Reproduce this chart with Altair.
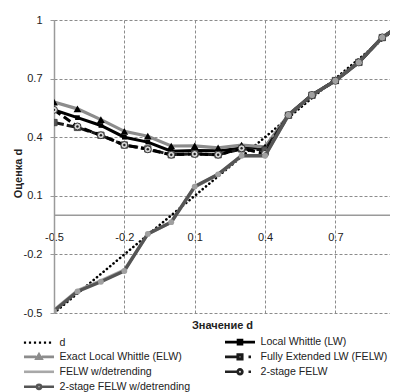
import altair as alt
import pandas as pd

# ---------------- data ----------------
d_values = [-0.5, -0.4, -0.3, -0.2, -0.1, 0.0, 0.1, 0.2, 0.3, 0.4, 0.5, 0.6, 0.7, 0.8, 0.9, 1.0]
s_d = [-0.5, -0.4, -0.3, -0.2, -0.1, 0.0, 0.1, 0.2, 0.3, 0.4, 0.5, 0.6, 0.7, 0.8, 0.9, 1.0]
s_lw = [0.54, 0.50, 0.46, 0.40, 0.375, 0.328, 0.332, 0.33, 0.345, 0.345, 0.512, 0.615, 0.69, 0.784, 0.91, 0.99]
s_elw = [0.58, 0.545, 0.49, 0.43, 0.405, 0.355, 0.356, 0.345, 0.36, 0.35, 0.515, 0.617, 0.69, 0.785, 0.912, 0.99]
s_felw = [0.475, 0.45, 0.41, 0.36, 0.34, 0.31, 0.315, 0.31, 0.34, 0.335, 0.512, 0.615, 0.69, 0.783, 0.91, 0.99]
s_felw2 = [0.54, 0.455, 0.41, 0.36, 0.338, 0.31, 0.314, 0.31, 0.343, 0.315, 0.513, 0.616, 0.689, 0.783, 0.911, 0.99]
s_felw_det = [-0.485, -0.385, -0.335, -0.28, -0.095, -0.035, 0.145, 0.21, 0.305, 0.305, 0.512, 0.615, 0.69, 0.783, 0.91, 0.99]
s_felw2_det = [-0.49, -0.39, -0.34, -0.285, -0.095, -0.035, 0.147, 0.21, 0.305, 0.305, 0.514, 0.616, 0.689, 0.783, 0.911, 0.99]

series_names = [
    "d",
    "Exact Local Whittle (ELW)",
    "FELW w/detrending",
    "2-stage FELW w/detrending",
    "Local Whittle (LW)",
    "Fully Extended LW (FELW)",
    "2-stage FELW",
]
series_values = {
    "d": s_d,
    "Exact Local Whittle (ELW)": s_elw,
    "FELW w/detrending": s_felw_det,
    "2-stage FELW w/detrending": s_felw2_det,
    "Local Whittle (LW)": s_lw,
    "Fully Extended LW (FELW)": s_felw,
    "2-stage FELW": s_felw2,
}
x_ticks = [-0.5, -0.2, 0.1, 0.4, 0.7]
y_ticks = [-0.5, -0.2, 0.1, 0.4, 0.7, 1.0]
zero_line = [0]

rows = []
for name in series_names:
    for dv, v in zip(d_values, series_values[name]):
        rows.append({"d": dv, "value": v, "series": name})
df = pd.DataFrame(rows)

FONT = "Liberation Sans"
GRID = "#8c8c8c"
AXISC = "#9a9a9a"

num_expr = "(datum.value < 0 ? '-' : '') + format(abs(datum.value), '.1f')"

x_enc = alt.X(
    "d:Q",
    scale=alt.Scale(domain=[-0.5, 0.933], nice=False, zero=False),
    axis=alt.Axis(
        values=x_ticks, grid=True, gridDash=[3, 2], gridColor=GRID, gridWidth=1,
        domain=False, ticks=False, labelPadding=-82, labelFlush=False,
        labelExpr=num_expr, labelFont=FONT, labelFontSize=11, labelColor="#222",
        title="Значение d", titleFont=FONT, titleFontSize=11, titleFontWeight="bold",
        titleColor="#222", titleY=6, titleBaseline="top",
    ),
)
y_enc = alt.Y(
    "value:Q",
    scale=alt.Scale(domain=[-0.5, 1.0], nice=False, zero=False),
    axis=alt.Axis(
        values=y_ticks, grid=True, gridDash=[3, 2], gridColor=GRID, gridWidth=1,
        domain=True, domainColor=AXISC, domainWidth=1.5,
        ticks=True, tickSize=4, tickColor=AXISC, labelPadding=8,
        labelExpr="datum.value == 1 ? '1' : " + num_expr,
        labelFont=FONT, labelFontSize=11, labelColor="#222",
        title="Оценка d", titleFont=FONT, titleFontSize=11, titleFontWeight="bold",
        titleColor="#222", titleX=-31, titleY=153,
    ),
)

base = alt.Chart(df).encode(x=x_enc, y=y_enc)

zero_rule = alt.Chart(pd.DataFrame({"z": zero_line})).mark_rule(
    color=AXISC, strokeWidth=1.5
).encode(y=alt.Y("z:Q"))

line_styles = {
    "d": dict(stroke="#000000", strokeWidth=2.6, strokeDash=[0.1, 4.2], strokeCap="round"),
    "Local Whittle (LW)": dict(stroke="#000000", strokeWidth=3),
    "Exact Local Whittle (ELW)": dict(stroke="#8c8c8c", strokeWidth=3.2),
    "Fully Extended LW (FELW)": dict(stroke="#1a1a1a", strokeWidth=3, strokeDash=[10, 3]),
    "FELW w/detrending": dict(stroke="#a8a8a8", strokeWidth=3.2),
    "2-stage FELW": dict(stroke="#000000", strokeWidth=3, strokeDash=[8, 4]),
    "2-stage FELW w/detrending": dict(stroke="#555555", strokeWidth=3.4),
}
marker_styles = {
    "Local Whittle (LW)": [dict(shape="square", fill="#000000", stroke="#000000", strokeWidth=0, size=22)],
    "Exact Local Whittle (ELW)": [dict(shape="triangle-up", fill="#000000", stroke="#000000", strokeWidth=0, size=60)],
    "Fully Extended LW (FELW)": [dict(shape="square", fill="#555555", stroke="#3a3a3a", strokeWidth=0.8, size=40)],
    "2-stage FELW": [dict(shape="circle", fill="#d6d6d6", stroke="#3a3a3a", strokeWidth=1, size=48),
                     dict(shape="circle", fill="#222222", stroke="#222222", strokeWidth=0, size=6)],
    "2-stage FELW w/detrending": [dict(shape="circle", fill="#a0a0a0", stroke="#a0a0a0", strokeWidth=0, size=34)],
}
draw_order = ["d", "Local Whittle (LW)", "Exact Local Whittle (ELW)", "Fully Extended LW (FELW)",
              "FELW w/detrending", "2-stage FELW", "2-stage FELW w/detrending"]

layers = [zero_rule]
for name in draw_order:
    filt = alt.datum.series == name
    layers.append(base.transform_filter(filt).mark_line(clip=True, **line_styles[name]))
    for ms in marker_styles.get(name, []):
        layers.append(base.transform_filter(filt).mark_point(clip=True, filled=True, opacity=1, **ms))

# ---------------- legend: one symbol path per series (line + marker) ----------------
dots = "".join("M%.2f,-0.22h0.44v0.44h-0.44Z" % (c - 0.22) for c in [-2.8, -1.8, -0.8, 0.2, 1.2, 2.2])
circ = "M-{r},0A{r},{r},0,1,0,{r},0A{r},{r},0,1,0,-{r},0Z"
legend_paths = [
    dots,
    "M-3,0H-0.55M0.55,0H3M0,-0.5L0.5,0.35H-0.5Z",
    "M-3,0H3",
    "M-3,0H-0.5M0.5,0H3" + circ.format(r=0.42),
    "M-3,0H-0.45M0.45,0H3M-0.4,-0.4H0.4V0.4H-0.4Z",
    "M-3,0H-0.55M1.7,0H2.2M-0.45,-0.45H0.45V0.45H-0.45Z",
    "M-3,0H-0.6M1.7,0H2.2" + circ.format(r=0.48) + circ.format(r=0.06),
]
legend_strokes = ["transparent", "#8c8c8c", "#a8a8a8", "#555555", "#000000", "#1a1a1a", "#222222"]
legend_fills = ["#000000", "#000000", "transparent", "#b4b4b4", "#000000", "#555555", "#d6d6d6"]

leg = alt.Legend(
    title=None, orient="none", legendX=-30, legendY=315.5, direction="vertical", columns=2,
    columnPadding=28, rowPadding=-1.1, padding=0, labelFont=FONT, labelFontSize=10.6,
    labelColor="#222", symbolSize=100, symbolStrokeWidth=2.6, symbolOffset=8.5,
    labelOffset=14, labelLimit=300, symbolOpacity=1,
)

legend_layer = base.mark_point(opacity=0, filled=True).encode(
    shape=alt.Shape("series:N", scale=alt.Scale(domain=series_names, range=legend_paths), legend=leg),
    stroke=alt.Stroke("series:N", scale=alt.Scale(domain=series_names, range=legend_strokes), legend=leg),
    fill=alt.Fill("series:N", scale=alt.Scale(domain=series_names, range=legend_fills), legend=leg),
)
layers.append(legend_layer)

chart = alt.layer(*layers).properties(
    width=336, height=293,
    autosize=alt.AutoSizeParams(type="none"),
    padding={"left": 46, "top": 12, "right": 0, "bottom": 79},
    background="white",
).configure_view(strokeWidth=0)

chart.save("out.html", embed_options={"renderer": "svg", "actions": False})
